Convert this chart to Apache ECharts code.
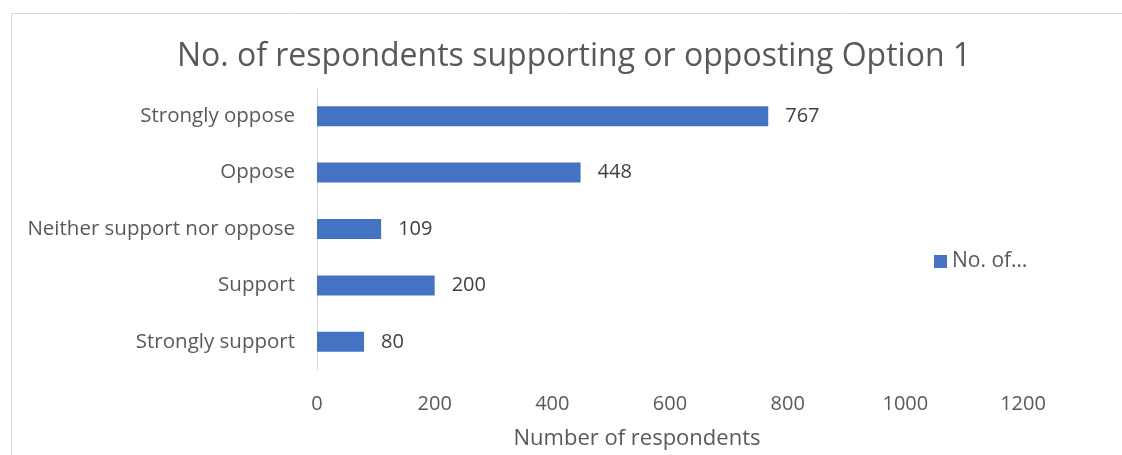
<!DOCTYPE html>
<html><head><meta charset="utf-8">
<script src="https://cdn.jsdelivr.net/npm/echarts@6/dist/echarts.min.js"></script>
<style>html,body{margin:0;padding:0;background:#fff}#c{width:1122px;height:455px}</style>
</head><body><div id="c"></div>
<script>
var categories = ['Strongly support','Support','Neither support nor oppose','Oppose','Strongly oppose'];
var values = [80, 200, 109, 448, 767];
var seriesName = 'No. of respondents';
var font = '"Open Sans", "Liberation Sans", sans-serif';
var chart = echarts.init(document.getElementById('c'));
chart.setOption({
  animation: false,
  backgroundColor: '#fff',
  title: {
    text: 'No. of respondents supporting or opposting Option 1',
    left: 569, top: 36, textAlign: 'center',
    textStyle: {fontFamily: font, fontSize: 32, fontWeight: 'normal', color: '#595959'}
  },
  legend: {
    left: 929, top: 246, itemWidth: 13, itemHeight: 13, itemGap: 6,
    icon: 'rect',
    formatter: function(){ return 'No. of…'; },
    textStyle: {fontFamily: font, fontSize: 21, color: '#595959'}
  },
  grid: {left: 317, right: 99, top: 88, bottom: 84, containLabel: false},
  xAxis: {
    type: 'value', min: 0, max: 1200, interval: 200,
    axisLine: {show: false}, axisTick: {show: false}, splitLine: {show: false},
    axisLabel: {fontFamily: font, fontSize: 20, color: '#595959', margin: 24,
      formatter: function(v){ return String(v); }},
    name: 'Number of respondents', nameLocation: 'middle', nameGap: 58,
    nameTextStyle: {fontFamily: font, fontSize: 22, color: '#595959', padding: [0, 66, 0, 0]}
  },
  yAxis: {
    type: 'category', data: categories,
    axisLine: {show: true, lineStyle: {color: '#d9d9d9', width: 1}},
    axisTick: {show: false},
    axisLabel: {fontFamily: font, fontSize: 20.5, color: '#595959', margin: 22}
  },
  series: [{
    name: seriesName, type: 'bar', data: values, barWidth: 20,
    itemStyle: {color: '#4472c4'},
    label: {show: true, position: 'right', distance: 17, fontFamily: font, fontSize: 20, color: '#404040'}
  }],
  graphic: [{
    type: 'rect', left: 9, top: 11, silent: true,
    shape: {width: 1130, height: 460},
    style: {fill: 'none', stroke: '#d9d9d9', lineWidth: 1}
  }]
});
</script></body></html>
